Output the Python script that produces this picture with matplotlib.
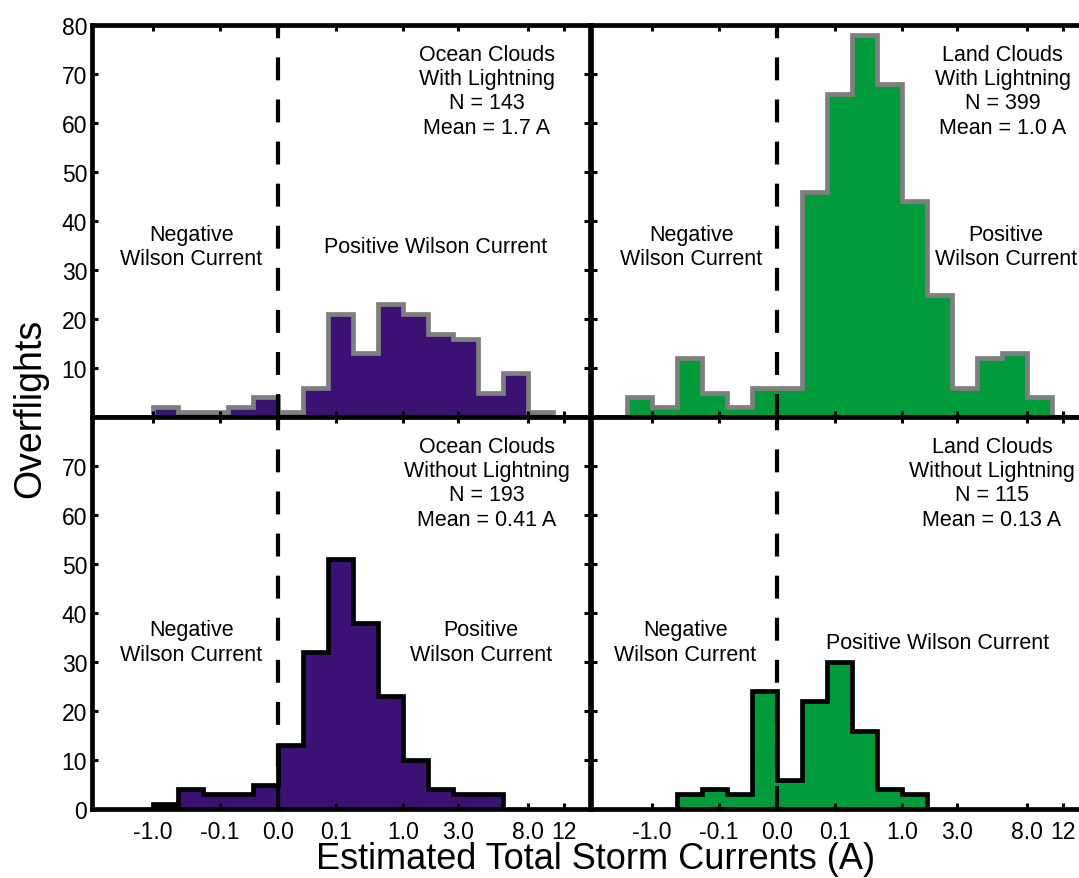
import numpy as np
import matplotlib
matplotlib.use("Agg")
import matplotlib.pyplot as plt

plt.rcParams['font.family'] = ['Liberation Sans', 'DejaVu Sans']

# bin edges on a cube-root current axis (step 0.2 in cube-root units)
edge_roots = np.round(np.arange(-1.2, 2.21, 0.2), 1)
edges = np.sign(edge_roots) * np.abs(edge_roots) ** 3

# counts per bin, with index of first edge
ocean_ltg = [2, 1, 1, 2, 4, 1, 6, 21, 13, 23, 21, 17, 16, 5, 9, 1]
ocean_ltg_start = 1
land_ltg = [4, 2, 12, 5, 2, 6, 6, 46, 66, 78, 68, 44, 25, 6, 12, 13, 4]
land_ltg_start = 0
ocean_noltg = [1, 4, 3, 3, 5, 13, 32, 51, 38, 23, 10, 4, 3, 3]
ocean_noltg_start = 1
land_noltg = [3, 4, 3, 24, 6, 22, 30, 16, 4, 3]
land_noltg_start = 2

xticks = [-1.0, -0.1, 0.0, 0.1, 1.0, 3.0, 8.0, 12.0]
xticklabels = ['-1.0', '-0.1', '0.0', '0.1', '1.0', '3.0', '8.0', '12']

titles = ["Ocean Clouds\nWith Lightning\nN = 143\nMean = 1.7 A",
          "Land Clouds\nWith Lightning\nN = 399\nMean = 1.0 A",
          "Ocean Clouds\nWithout Lightning\nN = 193\nMean = 0.41 A",
          "Land Clouds\nWithout Lightning\nN = 115\nMean = 0.13 A"]

purple = '#3c1174'
green = '#009b3a'

fig = plt.figure(figsize=(10.79, 8.79), dpi=100)
W, H = 1079.0, 879.0
aw, ah = 498 / W, 392 / H
ax_tl = fig.add_axes([92 / W, 1 - 418 / H, aw, ah])
ax_tr = fig.add_axes([591 / W, 1 - 418 / H, aw, ah])
ax_bl = fig.add_axes([92 / W, 1 - 810 / H, aw, ah])
ax_br = fig.add_axes([591 / W, 1 - 810 / H, aw, ah])

panels = [
    (ax_tl, ocean_ltg, ocean_ltg_start, purple, '#7f7f7f', titles[0], 0.793),
    (ax_tr, land_ltg, land_ltg_start, green, '#7f7f7f', titles[1], 0.827),
    (ax_bl, ocean_noltg, ocean_noltg_start, purple, 'black', titles[2], 0.793),
    (ax_br, land_noltg, land_noltg_start, green, 'black', titles[3], 0.805),
]

for ax, counts, start, fc, ec, title, tx in panels:
    e = edges[start:start + len(counts) + 1]
    ax.set_xscale('function', functions=(np.cbrt, lambda v: v ** 3))
    ax.stairs(counts, e, fill=True, color=fc, zorder=1)
    ax.stairs(counts, e, color=ec, lw=3.4, zorder=1.5)
    ax.axvline(0, color='black', lw=3, linestyle=(0, (5.5, 4.6)), zorder=2)
    ax.set_xlim(-(1.488 ** 3), 2.496 ** 3)
    ax.set_ylim(0, 80)
    ax.set_xticks(xticks)
    for sp in ax.spines.values():
        sp.set_linewidth(3.4)
    ax.tick_params(direction='in', length=4.5, width=2.2, top=True, right=True,
                   labelsize=16.5)
    ax.tick_params(axis='x', pad=8)
    ax.text(tx, 0.832, title, transform=ax.transAxes, ha='center', va='center',
            multialignment='center', fontsize=15.5, linespacing=1.2)

ax_tl.set_yticks(range(10, 81, 10))
ax_tr.set_yticks(range(10, 81, 10))
ax_bl.set_yticks(range(0, 71, 10))
ax_br.set_yticks(range(0, 71, 10))
ax_tr.tick_params(labelleft=False)
ax_br.tick_params(labelleft=False)
ax_tl.tick_params(labelbottom=False)
ax_tr.tick_params(labelbottom=False)
ax_bl.set_xticklabels(xticklabels)
ax_br.set_xticklabels(xticklabels)

kw = dict(ha='center', va='center', multialignment='center', fontsize=15.5, linespacing=1.2)
ax_tl.text(0.199, 0.434, "Negative\nWilson Current", transform=ax_tl.transAxes, **kw)
ax_tl.text(0.689, 0.434, "Positive Wilson Current", transform=ax_tl.transAxes, **kw)
ax_tr.text(0.201, 0.434, "Negative\nWilson Current", transform=ax_tr.transAxes, **kw)
ax_tr.text(0.833, 0.434, "Positive\nWilson Current", transform=ax_tr.transAxes, **kw)
ax_bl.text(0.199, 0.426, "Negative\nWilson Current", transform=ax_bl.transAxes, **kw)
ax_bl.text(0.781, 0.426, "Positive\nWilson Current", transform=ax_bl.transAxes, **kw)
ax_br.text(0.189, 0.426, "Negative\nWilson Current", transform=ax_br.transAxes, **kw)
ax_br.text(0.695, 0.426, "Positive Wilson Current", transform=ax_br.transAxes, **kw)

fig.text(0.028, 0.535, "Overflights", rotation=90, ha='center', va='center', fontsize=27)
fig.text(0.552, 0.022, "Estimated Total Storm Currents (A)", ha='center', va='center',
         fontsize=26)

fig.savefig('out.png', dpi=100)
